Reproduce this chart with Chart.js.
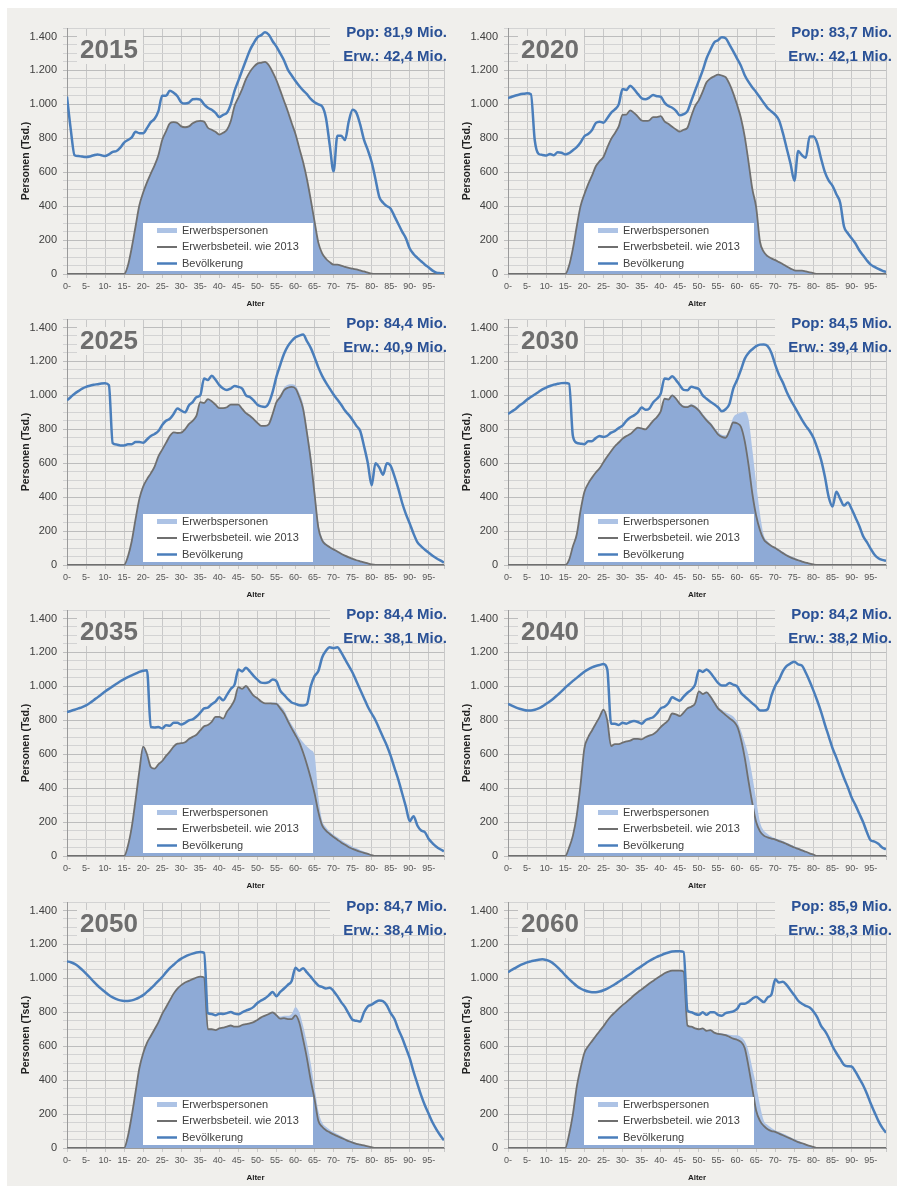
<!DOCTYPE html>
<html lang="de">
<head>
<meta charset="utf-8">
<title>Bevölkerung und Erwerbspersonen nach Alter</title>
<script src="https://cdn.jsdelivr.net/npm/chart.js@4.4.1/dist/chart.umd.min.js"></script>
<style>
  html, body { margin: 0; padding: 0; background: #fff; }
  body { position: relative; width: 903px; height: 1187px; overflow: hidden; }
  #bg { position: absolute; left: 7px; top: 8px; width: 890px; height: 1178px; background: #f0efec; }
  canvas.panel { position: absolute; }
</style>
</head>
<body>
<div id="bg"></div>
<script>
// Altersjahre 0 .. 99
const ages = [
  0, 1, 2, 3, 4, 5, 6, 7, 8, 9, 10, 11, 12, 13, 14, 15, 16, 17, 18, 19,
  20, 21, 22, 23, 24, 25, 26, 27, 28, 29, 30, 31, 32, 33, 34, 35, 36, 37, 38, 39,
  40, 41, 42, 43, 44, 45, 46, 47, 48, 49, 50, 51, 52, 53, 54, 55, 56, 57, 58, 59,
  60, 61, 62, 63, 64, 65, 66, 67, 68, 69, 70, 71, 72, 73, 74, 75, 76, 77, 78, 79,
  80, 81, 82, 83, 84, 85, 86, 87, 88, 89, 90, 91, 92, 93, 94, 95, 96, 97, 98, 99
];
const xTickValues = [0, 5, 10, 15, 20, 25, 30, 35, 40, 45, 50, 55, 60, 65, 70, 75, 80, 85, 90, 95, 99];
const xTickLabels = ["0-", "5-", "10-", "15-", "20-", "25-", "30-", "35-", "40-", "45-",
  "50-", "55-", "60-", "65-", "70-", "75-", "80-", "85-", "90-", "95-", ""];
const yTickValues = [0, 50, 100, 150, 200, 250, 300, 350, 400, 450, 500, 550, 600, 650, 700,
  750, 800, 850, 900, 950, 1000, 1050, 1100, 1150, 1200, 1250, 1300, 1350, 1400, 1450];
const yTickLabels = ["0", "200", "400", "600", "800", "1.000", "1.200", "1.400"];
const seriesNames = ["Erwerbspersonen", "Erwerbsbeteil. wie 2013", "Bevölkerung"];

// 2015
const bev2015 = [
  1046, 850, 700, 695, 692, 690, 693, 700, 705, 700,
  695, 705, 720, 725, 745, 775, 790, 805, 838, 830,
  830, 860, 895, 915, 960, 1050, 1050, 1080, 1068, 1048,
  1012, 1005, 1010, 1030, 1032, 1028, 1000, 980, 968, 950,
  925, 938, 950, 1000, 1080, 1140, 1200, 1260, 1318, 1360,
  1395, 1408, 1425, 1410, 1372, 1340, 1300, 1258, 1205, 1170,
  1138, 1108, 1082, 1060, 1032, 1012, 1000, 988, 920, 760,
  605, 815, 815, 790, 900, 968, 950, 880, 790, 730,
  660, 560, 455, 420, 400, 385, 340, 295, 250, 210,
  150, 118, 95, 75, 55, 38, 20, 8, 5, 4
];
const bet2015 = [
  0, 0, 0, 0, 0, 0, 0, 0, 0, 0,
  0, 0, 0, 0, 0, 0, 50, 155, 280, 405,
  480, 540, 592, 640, 700, 790, 840, 888, 895, 890,
  870, 865, 870, 888, 900, 902, 898, 862, 850, 838,
  822, 832, 850, 900, 990, 1040, 1090, 1148, 1190, 1220,
  1240, 1245, 1250, 1230, 1190, 1142, 1082, 1020, 958, 890,
  825, 742, 660, 560, 440, 310, 185, 122, 90, 70,
  55, 55, 50, 42, 36, 32, 27, 21, 15, 8,
  2, 0, 0, 0, 0, 0, 0, 0, 0, 0,
  0, 0, 0, 0, 0, 0, 0, 0, 0, 0
];
const erw2015 = [
  0, 0, 0, 0, 0, 0, 0, 0, 0, 0,
  0, 0, 0, 0, 0, 0, 50, 155, 280, 405,
  480, 540, 592, 640, 700, 790, 840, 888, 895, 890,
  870, 865, 870, 888, 900, 902, 898, 862, 850, 838,
  822, 832, 850, 900, 990, 1040, 1090, 1148, 1190, 1220,
  1240, 1245, 1250, 1230, 1190, 1142, 1082, 1020, 958, 890,
  825, 742, 660, 560, 440, 310, 185, 122, 90, 70,
  55, 55, 50, 42, 36, 32, 27, 21, 15, 8,
  2, 0, 0, 0, 0, 0, 0, 0, 0, 0,
  0, 0, 0, 0, 0, 0, 0, 0, 0, 0
];

// 2020
const bev2020 = [
  1036, 1045, 1052, 1058, 1062, 1065, 1060, 790, 708, 702,
  698, 708, 700, 718, 715, 705, 712, 730, 748, 775,
  812, 825, 848, 890, 898, 892, 918, 950, 970, 1000,
  1090, 1085, 1110, 1090, 1062, 1036, 1030, 1040, 1055, 1048,
  1045, 1010, 990, 980, 962, 935, 942, 960, 1020, 1080,
  1140, 1200, 1270, 1320, 1365, 1378, 1395, 1390, 1352, 1312,
  1270, 1228, 1172, 1132, 1100, 1072, 1040, 1008, 978, 958,
  938, 905, 830, 740, 650, 550, 725, 700, 685, 810,
  810, 770, 680, 600, 550, 520, 470, 420, 280, 240,
  210, 180, 140, 110, 80, 55, 42, 30, 20, 12
];
const bet2020 = [
  0, 0, 0, 0, 0, 0, 0, 0, 0, 0,
  0, 0, 0, 0, 0, 0, 50, 150, 280, 400,
  470, 530, 580, 635, 665, 690, 745, 795, 830, 870,
  938, 940, 965, 950, 928, 905, 902, 905, 925, 925,
  930, 900, 885, 868, 852, 840, 850, 862, 930, 990,
  1025, 1075, 1130, 1152, 1165, 1175, 1170, 1160, 1120, 1065,
  997, 920, 810, 660, 500, 393, 190, 130, 105, 92,
  82, 70, 58, 44, 32, 22, 20, 20, 15, 10,
  5, 0, 0, 0, 0, 0, 0, 0, 0, 0,
  0, 0, 0, 0, 0, 0, 0, 0, 0, 0
];
const erw2020 = [
  0, 0, 0, 0, 0, 0, 0, 0, 0, 0,
  0, 0, 0, 0, 0, 0, 50, 150, 280, 400,
  470, 530, 580, 635, 665, 690, 745, 795, 830, 870,
  938, 940, 965, 950, 928, 905, 902, 905, 925, 925,
  930, 900, 885, 868, 852, 840, 850, 862, 930, 990,
  1025, 1075, 1130, 1152, 1165, 1175, 1170, 1160, 1120, 1065,
  997, 920, 810, 660, 500, 393, 190, 130, 105, 92,
  82, 70, 58, 44, 32, 22, 20, 20, 15, 10,
  5, 0, 0, 0, 0, 0, 0, 0, 0, 0,
  0, 0, 0, 0, 0, 0, 0, 0, 0, 0
];

// 2025
const bev2025 = [
  971, 990, 1010, 1025, 1040, 1050, 1057, 1062, 1066, 1070,
  1072, 1060, 718, 710, 705, 705, 712, 712, 725, 725,
  720, 740, 760, 772, 790, 825, 850, 862, 890, 922,
  910, 900, 940, 960, 990, 1000, 1100, 1090, 1115, 1092,
  1060, 1040, 1032, 1040, 1055, 1050, 1040, 1000, 990, 970,
  945, 935, 932, 955, 1020, 1110, 1180, 1245, 1290, 1320,
  1342, 1352, 1358, 1320, 1280, 1225, 1165, 1115, 1075, 1040,
  1005, 975, 945, 910, 885, 855, 820, 790, 700, 600,
  470, 600, 575, 532, 600, 585, 522, 450, 367, 300,
  245, 185, 135, 110, 90, 72, 55, 40, 27, 15
];
const bet2025 = [
  0, 0, 0, 0, 0, 0, 0, 0, 0, 0,
  0, 0, 0, 0, 0, 0, 50, 140, 270, 390,
  462, 505, 540, 580, 640, 680, 720, 760, 782, 778,
  780, 800, 830, 850, 880, 960, 955, 978, 965, 945,
  925, 925, 930, 945, 945, 945, 920, 895, 880, 860,
  838, 820, 820, 830, 890, 960, 990, 1030, 1045, 1050,
  1040, 990, 920, 780, 620, 420, 220, 145, 120, 105,
  92, 80, 66, 55, 45, 36, 28, 22, 16, 9,
  3, 0, 0, 0, 0, 0, 0, 0, 0, 0,
  0, 0, 0, 0, 0, 0, 0, 0, 0, 0
];
const erw2025 = [
  0, 0, 0, 0, 0, 0, 0, 0, 0, 0,
  0, 0, 0, 0, 0, 0, 50, 140, 270, 390,
  462, 505, 540, 580, 640, 680, 720, 760, 782, 778,
  780, 800, 830, 850, 880, 960, 955, 978, 965, 945,
  925, 925, 930, 945, 945, 945, 920, 895, 880, 860,
  838, 820, 820, 830, 890, 965, 1000, 1045, 1062, 1065,
  1058, 1015, 950, 810, 660, 460, 250, 160, 128, 108,
  95, 82, 68, 57, 47, 38, 30, 23, 17, 10,
  3, 0, 0, 0, 0, 0, 0, 0, 0, 0,
  0, 0, 0, 0, 0, 0, 0, 0, 0, 0
];

// 2030
const bev2030 = [
  890, 905, 920, 940, 955, 975, 990, 1005, 1020, 1035,
  1046, 1055, 1063, 1068, 1072, 1073, 1068, 760, 720, 715,
  712, 730, 730, 748, 760, 755, 762, 780, 790, 808,
  822, 850, 870, 882, 900, 928, 915, 922, 958, 980,
  1010, 1100, 1095, 1112, 1090, 1060, 1032, 1030, 1050, 1045,
  1036, 1000, 980, 962, 948, 930, 906, 918, 950, 1040,
  1090, 1150, 1215, 1250, 1272, 1290, 1299, 1300, 1290, 1250,
  1180, 1120, 1075, 1020, 975, 935, 895, 855, 820, 790,
  750, 690, 620, 520, 400, 345, 432, 390, 350, 368,
  330, 280, 230, 170, 135, 95, 60, 40, 30, 25
];
const bet2030 = [
  0, 0, 0, 0, 0, 0, 0, 0, 0, 0,
  0, 0, 0, 0, 0, 0, 30, 110, 180, 320,
  430, 480, 515, 545, 570, 605, 640, 670, 700, 722,
  745, 760, 772, 792, 810, 805, 800, 822, 850, 872,
  905, 980, 975, 1000, 980, 950, 932, 930, 940, 930,
  910, 880, 852, 830, 800, 770, 755, 750, 790, 840,
  835, 815, 730, 590, 420, 290, 205, 150, 128, 112,
  100, 85, 70, 56, 45, 36, 28, 20, 14, 8,
  3, 0, 0, 0, 0, 0, 0, 0, 0, 0,
  0, 0, 0, 0, 0, 0, 0, 0, 0, 0
];
const erw2030 = [
  0, 0, 0, 0, 0, 0, 0, 0, 0, 0,
  0, 0, 0, 0, 0, 0, 30, 110, 180, 320,
  430, 480, 515, 545, 570, 605, 640, 670, 700, 722,
  745, 760, 772, 792, 810, 805, 800, 822, 850, 872,
  910, 985, 982, 1005, 988, 958, 940, 938, 948, 940,
  920, 892, 865, 842, 812, 785, 768, 765, 800, 870,
  890, 898, 905, 860, 680, 480, 300, 175, 140, 115,
  105, 92, 78, 64, 52, 42, 32, 23, 15, 8,
  3, 0, 0, 0, 0, 0, 0, 0, 0, 0,
  0, 0, 0, 0, 0, 0, 0, 0, 0, 0
];

// 2035
const bev2035 = [
  848, 855, 862, 870, 878, 888, 902, 918, 935, 952,
  969, 985, 1000, 1015, 1030, 1043, 1055, 1065, 1075, 1085,
  1092, 1095, 760, 758, 760, 752, 770, 768, 785, 785,
  775, 785, 800, 805, 822, 845, 870, 875, 895, 910,
  935, 918, 950, 985, 1010, 1100, 1088, 1110, 1088, 1062,
  1040, 1022, 1020, 1025, 1040, 1030, 975, 950, 925, 905,
  897, 888, 887, 895, 1000, 1060, 1090, 1170, 1210, 1230,
  1225, 1230, 1200, 1160, 1120, 1080, 1030, 980, 930, 880,
  840, 800, 750, 700, 650, 590, 520, 450, 370, 290,
  205, 235, 180, 150, 140, 100, 75, 55, 40, 28
];
const bet2035 = [
  0, 0, 0, 0, 0, 0, 0, 0, 0, 0,
  0, 0, 0, 0, 0, 0, 60, 170, 330, 500,
  645, 600, 525, 515, 540, 560, 590, 615, 645, 662,
  665, 670, 690, 702, 715, 740, 765, 772, 790, 820,
  820, 810, 850, 880, 920, 995, 985, 1002, 975, 945,
  930, 910, 900, 900, 898, 897, 870, 840, 795, 752,
  712, 670, 610, 540, 460, 370, 260, 180, 150, 130,
  112, 96, 80, 66, 52, 42, 33, 25, 18, 12,
  5, 0, 0, 0, 0, 0, 0, 0, 0, 0,
  0, 0, 0, 0, 0, 0, 0, 0, 0, 0
];
const erw2035 = [
  0, 0, 0, 0, 0, 0, 0, 0, 0, 0,
  0, 0, 0, 0, 0, 0, 60, 170, 330, 500,
  645, 600, 525, 515, 540, 560, 590, 615, 645, 662,
  665, 670, 690, 702, 715, 740, 765, 772, 790, 820,
  820, 810, 850, 880, 920, 995, 985, 1002, 975, 945,
  930, 910, 902, 902, 905, 905, 885, 862, 815, 775,
  740, 700, 670, 645, 625, 595, 350, 210, 170, 145,
  125, 110, 95, 80, 68, 55, 45, 35, 26, 17,
  8, 0, 0, 0, 0, 0, 0, 0, 0, 0,
  0, 0, 0, 0, 0, 0, 0, 0, 0, 0
];

// 2040
const bev2040 = [
  897, 886, 876, 868, 862, 858, 858, 862, 870, 882,
  897, 912, 930, 950, 970, 992, 1012, 1032, 1050, 1068,
  1086, 1100, 1112, 1120, 1126, 1131, 1100, 780, 780, 772,
  785, 780, 790, 795, 790, 780, 800, 810, 818, 840,
  870, 880, 900, 935, 925, 915, 940, 962, 980, 1010,
  1095, 1085, 1100, 1080, 1050, 1020, 1005, 1005, 1020, 1010,
  1000, 962, 940, 920, 900, 880, 858, 858, 865, 945,
  1004, 1040, 1090, 1120, 1135, 1145, 1130, 1122, 1080, 1030,
  975, 915, 850, 775, 705, 635, 580, 520, 460, 405,
  345, 300, 250, 200, 140, 92, 85, 72, 50, 40
];
const bet2040 = [
  0, 0, 0, 0, 0, 0, 0, 0, 0, 0,
  0, 0, 0, 0, 0, 0, 50, 120, 240, 420,
  634, 700, 740, 780, 820, 862, 800, 648, 660, 660,
  668, 675, 680, 690, 690, 688, 700, 710, 718, 735,
  760, 780, 800, 840, 835, 825, 845, 870, 880, 900,
  970, 955, 965, 940, 905, 870, 850, 830, 812, 795,
  765, 690, 580, 440, 310, 200, 145, 120, 110, 103,
  97, 88, 80, 70, 60, 50, 42, 33, 25, 16,
  8, 0, 0, 0, 0, 0, 0, 0, 0, 0,
  0, 0, 0, 0, 0, 0, 0, 0, 0, 0
];
const erw2040 = [
  0, 0, 0, 0, 0, 0, 0, 0, 0, 0,
  0, 0, 0, 0, 0, 0, 50, 120, 240, 420,
  634, 700, 740, 780, 820, 862, 800, 648, 660, 660,
  668, 675, 680, 690, 690, 688, 700, 710, 718, 735,
  760, 780, 800, 840, 835, 825, 845, 870, 880, 900,
  975, 960, 970, 948, 915, 880, 862, 848, 836, 822,
  792, 740, 670, 590, 470, 330, 200, 150, 130, 115,
  105, 97, 88, 78, 68, 58, 48, 38, 28, 18,
  9, 0, 0, 0, 0, 0, 0, 0, 0, 0,
  0, 0, 0, 0, 0, 0, 0, 0, 0, 0
];

// 2050
const bev2050 = [
  1100, 1095, 1085, 1070, 1050, 1028, 1005, 980, 958, 938,
  920, 902, 888, 877, 870, 867, 867, 870, 877, 888,
  901, 920, 940, 962, 985, 1008, 1035, 1060, 1080, 1100,
  1116, 1128, 1138, 1146, 1152, 1155, 1150, 795, 790, 782,
  792, 790, 795, 802, 792, 788, 800, 810, 818, 832,
  855, 870, 882, 900, 920, 895, 920, 940, 962, 985,
  1063, 1045, 1060, 1035, 1010, 982, 958, 950, 940, 945,
  925, 895, 860, 830, 790, 755, 750, 745, 800, 835,
  845, 860, 870, 865, 840, 795, 760, 700, 650, 590,
  530, 450, 380, 310, 250, 200, 150, 110, 75, 45
];
const bet2050 = [
  0, 0, 0, 0, 0, 0, 0, 0, 0, 0,
  0, 0, 0, 0, 0, 0, 70, 190, 330, 470,
  558, 620, 660, 700, 740, 790, 830, 870, 910, 940,
  960, 975, 985, 995, 1005, 1010, 1005, 700, 700, 695,
  705, 710, 715, 722, 715, 715, 725, 730, 735, 742,
  755, 770, 780, 790, 800, 782, 762, 765, 760, 760,
  782, 740, 640, 530, 400, 290, 160, 125, 105, 92,
  80, 70, 60, 50, 40, 32, 25, 20, 15, 10,
  5, 0, 0, 0, 0, 0, 0, 0, 0, 0,
  0, 0, 0, 0, 0, 0, 0, 0, 0, 0
];
const erw2050 = [
  0, 0, 0, 0, 0, 0, 0, 0, 0, 0,
  0, 0, 0, 0, 0, 0, 70, 190, 330, 470,
  558, 620, 660, 700, 740, 790, 830, 870, 910, 940,
  960, 975, 985, 995, 1005, 1010, 1005, 700, 700, 695,
  705, 710, 715, 722, 715, 715, 725, 730, 735, 742,
  755, 770, 782, 792, 802, 788, 775, 780, 780, 790,
  830, 800, 720, 620, 500, 360, 220, 150, 125, 108,
  95, 82, 70, 58, 47, 38, 30, 22, 16, 10,
  5, 0, 0, 0, 0, 0, 0, 0, 0, 0,
  0, 0, 0, 0, 0, 0, 0, 0, 0, 0
];

// 2060
const bev2060 = [
  1036, 1050, 1062, 1075, 1085, 1094, 1100, 1105, 1110, 1112,
  1108, 1100, 1085, 1065, 1042, 1018, 995, 975, 955, 940,
  930, 922, 918, 918, 922, 930, 940, 952, 965, 980,
  995, 1010, 1025, 1042, 1058, 1072, 1088, 1102, 1115, 1127,
  1135, 1145, 1152, 1158, 1160, 1160, 1155, 810, 800, 790,
  785, 800, 785, 800, 800, 785, 780, 795, 800, 805,
  820, 850, 850, 862, 880, 892, 875, 860, 888, 905,
  995, 975, 980, 960, 930, 900, 868, 850, 838, 828,
  805, 770, 720, 690, 650, 600, 560, 525, 490, 482,
  480, 450, 410, 370, 320, 262, 210, 160, 120, 90
];
const bet2060 = [
  0, 0, 0, 0, 0, 0, 0, 0, 0, 0,
  0, 0, 0, 0, 0, 0, 80, 200, 360, 470,
  560, 600, 630, 660, 690, 718, 750, 778, 800, 822,
  842, 860, 880, 900, 918, 935, 952, 970, 985, 1000,
  1015, 1030, 1040, 1045, 1045, 1045, 1040, 722, 715, 705,
  700, 705, 690, 695, 680, 672, 670, 665, 655, 645,
  638, 625, 590, 480, 350, 220, 160, 130, 110, 100,
  95, 85, 75, 65, 55, 45, 35, 28, 20, 12,
  6, 0, 0, 0, 0, 0, 0, 0, 0, 0,
  0, 0, 0, 0, 0, 0, 0, 0, 0, 0
];
const erw2060 = [
  0, 0, 0, 0, 0, 0, 0, 0, 0, 0,
  0, 0, 0, 0, 0, 0, 80, 200, 360, 470,
  560, 600, 630, 660, 690, 718, 750, 778, 800, 822,
  842, 860, 880, 900, 918, 935, 952, 970, 985, 1000,
  1015, 1030, 1040, 1045, 1045, 1045, 1040, 722, 715, 705,
  700, 705, 692, 698, 685, 676, 675, 672, 668, 665,
  665, 655, 630, 570, 470, 370, 250, 160, 135, 118,
  105, 95, 85, 75, 64, 53, 43, 33, 24, 15,
  8, 0, 0, 0, 0, 0, 0, 0, 0, 0,
  0, 0, 0, 0, 0, 0, 0, 0, 0, 0
];

const panels = [
  { year: "2015", pop: "Pop: 81,9 Mio.", erw: "Erw.: 42,4 Mio.", bev: bev2015, bet: bet2015, ep: erw2015 },
  { year: "2020", pop: "Pop: 83,7 Mio.", erw: "Erw.: 42,1 Mio.", bev: bev2020, bet: bet2020, ep: erw2020 },
  { year: "2025", pop: "Pop: 84,4 Mio.", erw: "Erw.: 40,9 Mio.", bev: bev2025, bet: bet2025, ep: erw2025 },
  { year: "2030", pop: "Pop: 84,5 Mio.", erw: "Erw.: 39,4 Mio.", bev: bev2030, bet: bet2030, ep: erw2030 },
  { year: "2035", pop: "Pop: 84,4 Mio.", erw: "Erw.: 38,1 Mio.", bev: bev2035, bet: bet2035, ep: erw2035 },
  { year: "2040", pop: "Pop: 84,2 Mio.", erw: "Erw.: 38,2 Mio.", bev: bev2040, bet: bet2040, ep: erw2040 },
  { year: "2050", pop: "Pop: 84,7 Mio.", erw: "Erw.: 38,4 Mio.", bev: bev2050, bet: bet2050, ep: erw2050 },
  { year: "2060", pop: "Pop: 85,9 Mio.", erw: "Erw.: 38,3 Mio.", bev: bev2060, bet: bet2060, ep: erw2060 }
];

const FONT = "'Liberation Sans', Arial, sans-serif";
const BG = "#f0efec";
const BLUE = "#4a7ebb";
const GREY = "#6f6f6f";
const FILL_DARK = "#8eaad6";
const FILL_LIGHT = "#adc3e5";
const ROW_TOPS = [8, 299, 590, 882];

// Jahr, Summen, Achsentitel und die weisse Legende im Diagramm
const panelDecor = {
  id: "panelDecor",
  beforeDatasetsDraw(chart, args, o) {
    const { ctx, chartArea: a } = chart;
    ctx.save();
    ctx.fillStyle = BG;
    ctx.fillRect(a.left + 10, a.top + 8, 66, 28);
    ctx.fillRect(a.right + o.dx - 117, a.top - 6, 118, 38);

    ctx.textBaseline = "middle";
    ctx.textAlign = "left";
    ctx.font = "bold 26px " + FONT;
    ctx.fillStyle = "#6e6e6e";
    ctx.fillText(o.year, a.left + 13, a.top + 23);

    ctx.textAlign = "right";
    ctx.font = "bold 15px " + FONT;
    ctx.fillStyle = "#2a5196";
    ctx.fillText(o.pop, a.right + o.dx, a.top + 5);
    ctx.fillText(o.erw, a.right + o.dx, a.top + 29);

    ctx.translate(a.left - 41, a.top + 133);
    ctx.rotate(-Math.PI / 2);
    ctx.textAlign = "center";
    ctx.font = "bold 10.5px " + FONT;
    ctx.fillStyle = "#222";
    ctx.fillText("Personen (Tsd.)", 0, 0);
    ctx.restore();
  },
  afterDatasetsDraw(chart) {
    const { ctx, chartArea: a } = chart;
    const x = a.left + 76;
    const y = a.bottom - 51;
    ctx.save();
    ctx.fillStyle = "#fff";
    ctx.fillRect(x, y, 170, 48);
    const swatches = [
      { color: FILL_LIGHT, width: 5 },
      { color: GREY, width: 2 },
      { color: BLUE, width: 2.5 }
    ];
    ctx.font = "11px " + FONT;
    ctx.textAlign = "left";
    ctx.textBaseline = "middle";
    seriesNames.forEach((name, i) => {
      const cy = y + 7.5 + i * 16.5;
      ctx.strokeStyle = swatches[i].color;
      ctx.lineWidth = swatches[i].width;
      ctx.beginPath();
      ctx.moveTo(x + 14, cy);
      ctx.lineTo(x + 34, cy);
      ctx.stroke();
      ctx.fillStyle = "#404040";
      ctx.fillText(name, x + 39, cy);
    });
    ctx.restore();
  }
};

panels.forEach((p, i) => {
  const col = i % 2;
  const row = Math.floor(i / 2);
  const canvas = document.createElement("canvas");
  canvas.className = "panel";
  canvas.width = col ? 449 : 441;
  canvas.height = 301;
  canvas.style.left = (col ? 448 : 7) + "px";
  canvas.style.top = ROW_TOPS[row] + "px";
  document.body.appendChild(canvas);

  new Chart(canvas.getContext("2d"), {
    type: "line",
    data: {
      labels: ages,
      datasets: [
        {
          label: seriesNames[2],
          data: p.bev,
          borderColor: BLUE,
          borderWidth: 2.5,
          fill: false
        },
        {
          label: seriesNames[1],
          data: p.bet,
          borderColor: GREY,
          borderWidth: 1.8,
          backgroundColor: FILL_DARK,
          fill: "origin"
        },
        {
          label: seriesNames[0],
          data: p.ep,
          borderColor: "rgba(0,0,0,0)",
          borderWidth: 0,
          backgroundColor: FILL_LIGHT,
          fill: "origin"
        }
      ]
    },
    options: {
      responsive: false,
      animation: false,
      devicePixelRatio: 1,
      layout: { padding: { top: 20, right: col ? 11 : 4, left: 0, bottom: 0 } },
      elements: {
        point: { radius: 0 },
        line: { cubicInterpolationMode: "monotone" }
      },
      plugins: {
        legend: { display: false },
        tooltip: { enabled: false },
        panelDecor: { year: p.year, pop: p.pop, erw: p.erw, dx: col ? 6 : 3 }
      },
      scales: {
        x: {
          type: "linear",
          min: 0,
          max: 99,
          afterFit: (s) => { s.height = 35; },
          afterBuildTicks: (s) => { s.ticks = xTickValues.map((v) => ({ value: v })); },
          ticks: {
            autoSkip: false,
            maxRotation: 0,
            padding: 3,
            color: "#555",
            font: { family: FONT, size: 9 },
            callback: (v) => xTickLabels[xTickValues.indexOf(v)]
          },
          grid: { color: "#c8c8c8", tickLength: 4 },
          border: { color: "#9a9a9a" },
          title: {
            display: true,
            text: "Alter",
            color: "#222",
            padding: 0,
            font: { family: FONT, size: 8, weight: "bold" }
          }
        },
        y: {
          min: 0,
          max: 1450,
          afterFit: (s) => { s.width = 60; },
          afterBuildTicks: (s) => { s.ticks = yTickValues.map((v) => ({ value: v })); },
          ticks: {
            autoSkip: false,
            padding: 6,
            color: "#404040",
            font: { family: FONT, size: 11 },
            callback: (v) => (v % 200 === 0 ? yTickLabels[v / 200] : "")
          },
          grid: {
            tickLength: 4,
            color: (c) => (c.tick && c.tick.value % 200 === 0 ? "#bdbdbd" : "#d3d3d3")
          },
          border: { color: "#9a9a9a" }
        }
      }
    },
    plugins: [panelDecor]
  });
});
</script>
</body>
</html>
